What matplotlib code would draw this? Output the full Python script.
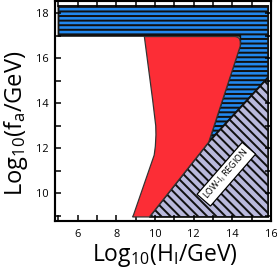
import matplotlib
matplotlib.use("Agg")
import matplotlib.pyplot as plt
from matplotlib.patches import Polygon
import numpy as np

plt.rcParams['font.family'] = ['Open Sans', 'DejaVu Sans']
plt.rcParams['hatch.linewidth'] = 1.3
plt.rcParams['mathtext.fontset'] = 'custom'
plt.rcParams['mathtext.rm'] = 'Open Sans'
plt.rcParams['mathtext.it'] = 'Open Sans'

# ---- data (log10 GeV) ----
x_range = [5.01, 15.85]
y_bottom = 8.95
band_y = [17.0, 18.33]

# red (allowed) region boundary
red_x = [9.45, 9.88, 10.04, 10.05, 10.02, 9.96, 8.89, 8.84, 9.71, 12.78, 14.41, 14.41, 14.37, 14.28, 14.15, 9.45]
red_y = [16.97, 14.15, 13.00, 12.60, 12.10, 11.70, 9.04, 8.95, 8.95, 12.28, 16.55, 16.75, 16.87, 16.94, 16.97, 16.97]

# low-H_I region boundary (upper edge)
low_x = [9.71, 12.78, 15.85]
low_y = [8.95, 12.28, 15.15]

# blue excluded region corner on the right
blue_edge_x = [12.78, 14.41, 14.41]
blue_edge_y = [12.28, 16.60, 17.0]

xticks = [6, 8, 10, 12, 14, 16]
yticks = [10, 12, 14, 16, 18]

dpi = 110
fig = plt.figure(figsize=(277 / dpi, 278 / dpi), dpi=dpi)
ax = fig.add_axes([55 / 277, 1 - 221 / 278, (271 - 55) / 277, 220 / 278])
ax.set_xlim(4.83, 16.0)
ax.set_ylim(8.77, 18.55)

blue_face = '#2288ee'
# blue region: band + right-hand wedge
bx = [x_range[0], x_range[0], x_range[1], x_range[1], low_x[1]] + blue_edge_x[1:]
by = [band_y[0], band_y[1], band_y[1], low_y[2], low_y[1]] + blue_edge_y[1:]
ax.add_patch(Polygon(np.column_stack([bx, by]), closed=True, facecolor=blue_face,
                     edgecolor='#111111', hatch='----', lw=1.2, zorder=1))

# low-H_I region
px = low_x + [x_range[1]]
py = low_y + [y_bottom]
ax.add_patch(Polygon(np.column_stack([px, py]), closed=True, facecolor='#b9b9dc',
                     edgecolor='#111111', hatch='\\\\\\\\', lw=1.2, zorder=1))

# red region
ax.add_patch(Polygon(np.column_stack([red_x, red_y]), closed=True, facecolor='#fc2d36',
                     edgecolor='#333333', lw=0.8, zorder=2))

ax.text(13.69, 10.85, r'LOW-I$_\mathrm{I}$ REGION', rotation=49, ha='center', va='center',
        fontsize=5.8, zorder=5,
        bbox=dict(boxstyle='square,pad=0.3', facecolor='white', edgecolor='black', lw=0.8))

ax.set_xticks(xticks)
ax.set_yticks(yticks)
ax.set_xticks(np.arange(5, 17, 1), minor=True)
ax.set_yticks(np.arange(9, 19, 1), minor=True)
for which in ('major', 'minor'):
    ax.tick_params(which=which, direction='in', length=4.2, width=1.0, top=True, right=True,
                   color='black')
ax.tick_params(which='major', labelsize=7.2, pad=4)
ax.tick_params(axis='x', which='major', pad=5)
for s in ax.spines.values():
    s.set_linewidth(1.4)

fig.text(165 / 277, 1 - 261 / 278, r'Log$_{10}$(H$_\mathrm{I}$/GeV)', ha='center', va='baseline',
         fontsize=15)
fig.text(21.7 / 277, 1 - 123.5 / 278, r'Log$_{10}$(f$_\mathrm{a}$/GeV)', ha='center', va='baseline',
         rotation=90, rotation_mode='anchor', fontsize=15.5)

fig.savefig('out.png', dpi=dpi)
